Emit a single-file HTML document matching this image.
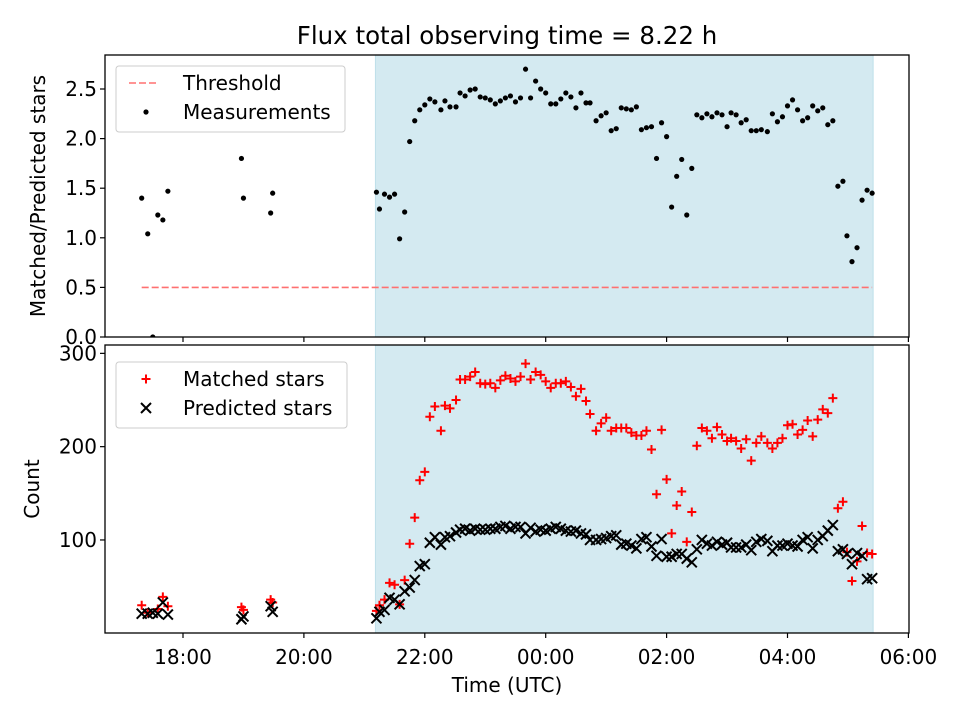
<!DOCTYPE html>
<html><head><meta charset="utf-8"><style>
body{margin:0;background:#fff}
svg text{font-family:"DejaVu Sans","Liberation Sans",sans-serif;fill:#000}
</style></head><body>
<svg id="fig" width="960" height="720" xmlns="http://www.w3.org/2000/svg">
<rect width="960" height="720" fill="#fff"/>
<text x="507" y="44" font-size="24.5" text-anchor="middle">Flux total observing time = 8.22 h</text>
<text transform="translate(45,196) rotate(-90)" font-size="20" text-anchor="middle">Matched/Predicted stars</text>
<text transform="translate(39,489) rotate(-90)" font-size="20" text-anchor="middle">Count</text>
<text x="507" y="692" font-size="20" text-anchor="middle">Time (UTC)</text>
<g id="topPanel"></g>
<g id="botPanel"></g>
</svg>
<script>
// minutes after 18:00 UTC
const ratioTimes=[-41,-35,-30,-25,-20,-15,58,60,87,89,
192,195,200,205,210,215,220,225,230,235,240,245,250,256,260,265,271,275,280,285,290,295,300,305,310,315,320,325,330,335,340,345,350,355,360,365,370,375,380,385,390,395,400,404,410,415,420,425,430,435,440,445,450,
455,460,465,470,475,480,485,490,495,500,505,510,515,520,525,530,535,540,544,549,554,559,564,569,574,580,585,590,595,600,605,610,615,620,625,630,635,640,645,650,655,659,664,669,674,679,684];
const ratios=[1.40,1.04,0.0,1.23,1.18,1.47,1.80,1.40,1.25,1.45,
1.46,1.29,1.44,1.41,1.44,0.99,1.26,1.97,2.18,2.29,2.34,2.40,2.37,2.29,2.38,2.32,2.32,2.46,2.43,2.49,2.50,2.42,2.41,2.39,2.35,2.38,2.41,2.43,2.37,2.41,2.70,2.41,2.58,2.50,2.46,2.35,2.35,2.40,2.46,2.42,2.31,2.46,2.36,2.36,2.18,2.23,2.26,2.08,2.10,2.31,2.30,2.29,2.32,
2.09,2.11,2.12,1.80,2.16,2.02,1.31,1.62,1.79,1.23,1.70,2.24,2.21,2.25,2.22,2.26,2.24,2.12,2.26,2.24,2.16,2.19,2.08,2.08,2.09,2.07,2.25,2.17,2.22,2.33,2.39,2.29,2.18,2.21,2.33,2.28,2.31,2.14,2.18,1.52,1.57,1.02,0.76,0.90,1.38,1.48,1.45];
const countTimes=ratioTimes;
const matched=[30,22,null,26,39,29,28,25,36,33,
24,30,36,54,52,31,57,96,124,164,173,232,243,217,244,241,250,272,272,275,280,268,267,268,263,271,276,273,270,275,289,272,280,277,270,263,268,268,270,264,254,262,249,235,217,225,231,217,220,220,220,215,212,
212,217,197,149,218,165,107,137,152,98,130,201,220,217,209,221,213,206,209,206,198,208,185,204,211,204,198,204,209,223,224,213,218,228,211,229,240,236,252,134,141,87,56,77,115,86,85];
const predicted=[21,21,22,21,33,20,15,18,29,23,
16,23,25,38,36,31,45,49,57,72,74,97,103,95,103,104,108,111,112,110,112,111,111,112,112,114,115,112,114,114,107,113,109,111,110,112,114,112,110,109,110,107,106,100,100,101,102,104,105,95,96,94,91,
101,103,93,83,101,82,82,85,85,80,76,90,100,96,94,98,95,97,92,92,92,95,89,98,101,99,88,94,94,96,94,93,100,103,91,100,104,110,116,88,90,85,74,86,83,58,59];
const threshold=0.5, thresholdStart=-41, thresholdEnd=684;
const spanStart=191, spanEnd=685;
const xTickMinutes=[0,120,240,360,480,600,720];
const xTickLabels=["18:00","20:00","22:00","00:00","02:00","04:00","06:00"];
const ratioTicks=[0,0.5,1.0,1.5,2.0,2.5];
const countTicks=[100,200,300];

const NS="http://www.w3.org/2000/svg";
const FS=20;
const L=105,R=909;
const T1=55,B1=337,T2=345,B2=633;
const xs=m=>183+m*60.45/60;
const y1=v=>337-v*99.2;
const y2=c=>632.7-(c-0.6)*0.933;
function mk(p,tag,a){const e=document.createElementNS(NS,tag);for(const k in a)e.setAttribute(k,a[k]);p.appendChild(e);return e;}
const topG=document.getElementById('topPanel'),botG=document.getElementById('botPanel');
const defs=mk(document.getElementById('fig'),'defs',{});
const c1=mk(defs,'clipPath',{id:'c1'});mk(c1,'rect',{x:L,y:T1,width:R-L,height:B1-T1});
const c2=mk(defs,'clipPath',{id:'c2'});mk(c2,'rect',{x:L,y:T2,width:R-L,height:B2-T2});

[[topG,T1,B1],[botG,T2,B2]].forEach(([g,T,B],i)=>{
  const s=mk(g,'rect',{x:xs(spanStart),y:T,width:xs(spanEnd)-xs(spanStart),height:B-T,fill:'#d4eaf1',stroke:'#bfe0ea','stroke-width':1});
  
  
});

const th=mk(topG,'line',{x1:xs(thresholdStart),x2:xs(thresholdEnd),y1:y1(threshold),y2:y1(threshold),stroke:'#ff7070','stroke-width':1.6,'stroke-dasharray':'7,3'});



const gp=mk(topG,'g',{'clip-path':'url(#c1)'});
ratioTimes.forEach((t,i)=>{
  const d=mk(gp,'circle',{cx:xs(t),cy:y1(ratios[i]),r:2.6,fill:'#000'});
  
  
});
const gb=mk(botG,'g',{'clip-path':'url(#c2)'});
countTimes.forEach((t,i)=>{
  if(matched[i]==null)return;
  const x=xs(t),y=y2(matched[i]);
  const p=mk(gb,'path',{d:`M${x-4.5},${y}H${x+4.5}M${x},${y-4.5}V${y+4.5}`,stroke:'#ff0000','stroke-width':2,fill:'none'});
  
  
});
countTimes.forEach((t,i)=>{
  const x=xs(t),y=y2(predicted[i]);
  const p=mk(gb,'path',{d:`M${x-5},${y-5}L${x+5},${y+5}M${x-5},${y+5}L${x+5},${y-5}`,stroke:'#000','stroke-width':2,fill:'none'});
  
  
});

[[topG,T1,B1],[botG,T2,B2]].forEach(([g,T,B],i)=>{
  const f=mk(g,'rect',{x:L,y:T,width:R-L,height:B-T,fill:'none',stroke:'#000','stroke-width':1.3});
  
  
  xTickMinutes.forEach((m,j)=>{
    mk(g,'line',{x1:xs(m),x2:xs(m),y1:B,y2:B+5,stroke:'#000','stroke-width':1.2});
    if(i){const tl=mk(g,'text',{x:xs(m),y:B+31,'font-size':FS,'text-anchor':'middle'});tl.textContent=xTickLabels[j];
      
      }
  });
});
ratioTicks.forEach(v=>{
  mk(topG,'line',{x1:L-5,x2:L,y1:y1(v),y2:y1(v),stroke:'#000','stroke-width':1.2});
  const t=mk(topG,'text',{x:L-8,y:y1(v)+7,'font-size':FS,'text-anchor':'end'});t.textContent=v.toFixed(1);
  
  
});
countTicks.forEach(v=>{
  mk(botG,'line',{x1:L-5,x2:L,y1:y2(v),y2:y2(v),stroke:'#000','stroke-width':1.2});
  const t=mk(botG,'text',{x:L-8,y:y2(v)+7,'font-size':FS,'text-anchor':'end'});t.textContent=v;
  
  
});

function legend(g,x,y,w,h,items,name){
  const lg=mk(g,'g',{});
  
  
  mk(lg,'rect',{x:x,y:y,width:w,height:h,rx:3,fill:'#fff','fill-opacity':0.85,stroke:'#ccc','stroke-width':1});
  items.forEach((it,k)=>{
    const cy=y+17+k*29;
    it.draw(lg,x+30,cy);
    const t=mk(lg,'text',{x:x+67,y:cy+7,'font-size':FS});t.textContent=it.label;
    
    
  });
}
legend(topG,116,66,229,66,[
 {label:'Threshold',draw:(g,x,y)=>mk(g,'line',{x1:x-17,x2:x+11,y1:y,y2:y,stroke:'#ff7070','stroke-width':1.6,'stroke-dasharray':'7,3'})},
 {label:'Measurements',draw:(g,x,y)=>mk(g,'circle',{cx:x,cy:y,r:2.6,fill:'#000'})}
],'ratio-legend');
legend(botG,116,362,231,66,[
 {label:'Matched stars',draw:(g,x,y)=>mk(g,'path',{d:`M${x-4.5},${y}H${x+4.5}M${x},${y-4.5}V${y+4.5}`,stroke:'#f00','stroke-width':2})},
 {label:'Predicted stars',draw:(g,x,y)=>mk(g,'path',{d:`M${x-5},${y-5}L${x+5},${y+5}M${x-5},${y+5}L${x+5},${y-5}`,stroke:'#000','stroke-width':2})}
],'count-legend');
</script>
</body></html>
